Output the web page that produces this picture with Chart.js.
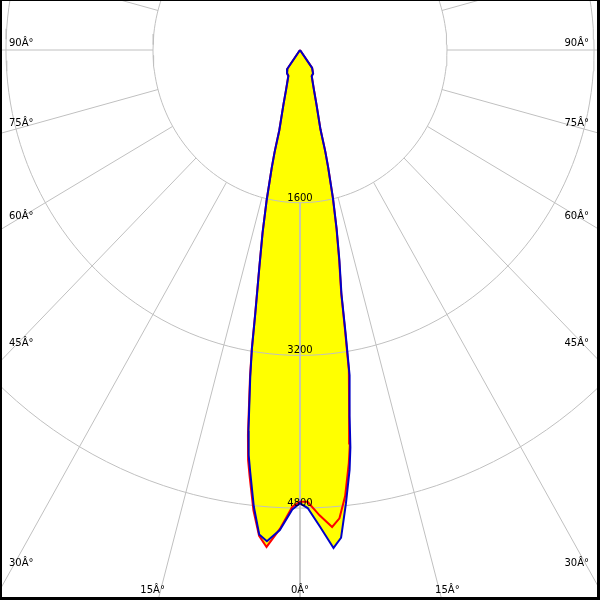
<!DOCTYPE html>
<html>
<head>
<meta charset="utf-8">
<script src="https://cdn.jsdelivr.net/npm/chart.js@4/dist/chart.umd.min.js"></script>
<style>
	html, body { margin: 0; padding: 0; background: #ffffff; }
	#wrap { width: 600px; height: 600px; }
</style>
</head>
<body>
<div id="wrap"><canvas id="chart" width="600" height="600"></canvas></div>
<script>
// gamma angles in degrees, shared by the four half planes
var angles = [0, 1, 2.5, 4, 5, 6, 7, 7.5, 8, 9, 9.5, 10, 11, 12, 13, 14, 14.5, 15, 16, 17.5, 20, 25, 30, 35, 40, 90];

// luminous intensity (cd)
var redLeft = [4733, 4786, 5023, 5220, 5110, 4850, 4500, 4330, 4070, 3480, 3180, 2810, 2320, 1960, 1610, 1270, 1100, 870, 735, 598, 444, 300, 282, 240, 0, 0];
var redRight = [4733, 4734, 4880, 5010, 4926, 4700, 4360, 4160, 3840, 3400, 2960, 2580, 2230, 1910, 1590, 1265, 1100, 860, 727, 594, 444, 302, 285, 230, 0, 0];
var blueLeft = [4750, 4815, 5035, 5160, 5095, 4810, 4450, 4280, 4030, 3460, 3170, 2800, 2320, 1960, 1610, 1270, 1100, 870, 735, 598, 444, 300, 282, 240, 0, 0];
var blueRight = [4750, 4800, 5000, 5230, 5130, 4780, 4430, 4200, 3880, 3450, 3000, 2600, 2250, 1920, 1600, 1265, 1100, 860, 727, 594, 444, 302, 285, 230, 0, 0];

// grid
var ringValues = [1600, 3200, 4800];
var spokeAngles = [0, 15, 30, 45, 60, 75, 90, 105, 120, 135, 150, 165, 180];
var tickAngles = [0, 15, 30, 45, 60, 75, 90];
var tickLabels = ['0Â°', '15Â°', '30Â°', '45Â°', '60Â°', '75Â°', '90Â°'];

// visible window of the diagram, in cd
var xRange = [-3265, 3265];
var yRange = [-5763, 524];

/**
 * Converts a gamma angle (0 = straight down) and an intensity to a point.
 */
function polar(deg, r) {
	var a = deg * Math.PI / 180;
	return {x: r * Math.sin(a), y: -r * Math.cos(a)};
}

/**
 * Builds the closed outline of one C plane, from -90 through 0 to +90.
 */
function planePoints(left, right) {
	var pts = [];
	for (var i = angles.length - 1; i >= 0; i--) {
		pts.push(polar(-angles[i], left[i]));
	}
	for (var j = 1; j < angles.length; j++) {
		pts.push(polar(angles[j], right[j]));
	}
	return pts;
}

function gridDatasets() {
	var sets = [];
	ringValues.forEach(function(v) {
		var pts = [];
		for (var d = 0; d <= 360; d += 2) pts.push(polar(d, v));
		sets.push(lineSet(pts, '#c0c0c0', 1, 5));
	});
	spokeAngles.forEach(function(a) {
		[-1, 1].forEach(function(s) {
			if (s < 0 && (a == 0 || a == 180)) return;
			sets.push(lineSet([polar(s * a, ringValues[0]), polar(s * a, 9000)], '#c0c0c0', 1, 5));
		});
	});
	return sets;
}

function lineSet(pts, color, width, order) {
	return {
		data: pts,
		showLine: true,
		borderColor: color,
		borderWidth: width,
		pointRadius: 0,
		tension: 0,
		fill: false,
		order: order
	};
}

function fillSet(pts) {
	return {
		data: pts,
		showLine: true,
		borderWidth: 0,
		borderColor: 'rgba(0,0,0,0)',
		backgroundColor: '#ffff00',
		pointRadius: 0,
		tension: 0,
		fill: 'shape',
		order: 10
	};
}

var redPts = planePoints(redLeft, redRight);
var bluePts = planePoints(blueLeft, blueRight);

var datasets = [
	fillSet(redPts),
	fillSet(bluePts)
].concat(gridDatasets()).concat([
	lineSet(redPts, '#ff0000', 2, 2),
	lineSet(bluePts, '#0000c8', 2, 1)
]);

// text labels and the black frame
var labelPlugin = {
	id: 'polarLabels',
	afterDatasetsDraw: function(chart) {
		var ctx = chart.ctx;
		var xs = chart.scales.x, ys = chart.scales.y;
		var area = chart.chartArea;
		var cx = xs.getPixelForValue(0), cy = ys.getPixelForValue(0);
		var half = (area.right - area.left) / 2;
		var below = area.bottom - cy;
		ctx.save();
		ctx.font = '10px "DejaVu Sans", sans-serif';
		ctx.fillStyle = '#000000';
		ctx.textBaseline = 'alphabetic';
		ctx.textAlign = 'center';
		ringValues.forEach(function(v) {
			ctx.fillText(String(v), cx, ys.getPixelForValue(-v) - 2);
		});
		tickAngles.forEach(function(a, i) {
			var t = Math.tan(a * Math.PI / 180);
			if (a > 0 && half / t < below - 20) {
				var y = cy + half / t - 4;
				ctx.textAlign = 'left';
				ctx.fillText(tickLabels[i], area.left + 9, y);
				ctx.textAlign = 'right';
				ctx.fillText(tickLabels[i], area.right - 11, y);
			} else {
				var dx = below * t;
				ctx.textAlign = 'center';
				ctx.fillText(tickLabels[i], cx - dx, area.bottom - 7);
				if (a > 0) ctx.fillText(tickLabels[i], cx + dx, area.bottom - 7);
			}
		});
		ctx.restore();
	},
	afterDraw: function(chart) {
		var ctx = chart.ctx;
		var w = chart.width, h = chart.height;
		ctx.save();
		ctx.fillStyle = '#000000';
		ctx.fillRect(0, 0, w, 1);
		ctx.fillRect(0, 0, 2, h);
		ctx.fillRect(w - 3, 0, 3, h);
		ctx.fillRect(0, h - 3, w, 3);
		ctx.restore();
	}
};

new Chart(document.getElementById('chart'), {
	type: 'scatter',
	data: {datasets: datasets},
	options: {
		responsive: false,
		animation: false,
		events: [],
		layout: {padding: 0},
		plugins: {
			legend: {display: false},
			tooltip: {enabled: false}
		},
		scales: {
			x: {type: 'linear', display: false, min: xRange[0], max: xRange[1]},
			y: {type: 'linear', display: false, min: yRange[0], max: yRange[1]}
		}
	},
	plugins: [labelPlugin]
});
</script>
</body>
</html>
